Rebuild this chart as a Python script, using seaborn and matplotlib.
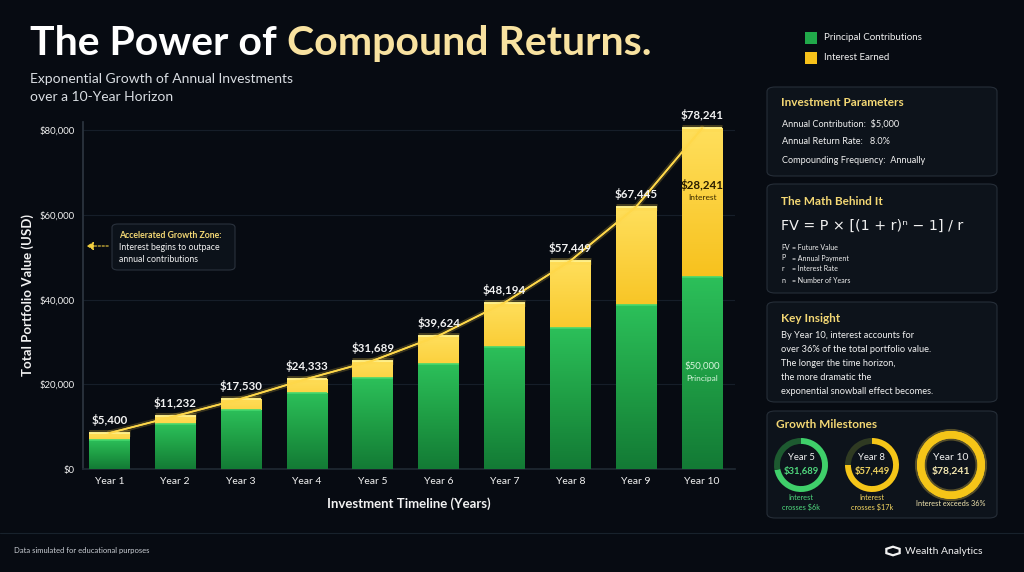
import numpy as np
import matplotlib
matplotlib.use("Agg")
import matplotlib.pyplot as plt
import matplotlib.patheffects as pe
from matplotlib.patches import FancyBboxPatch, Rectangle, RegularPolygon
from matplotlib.colors import LinearSegmentedColormap
import seaborn as sns
import pandas as pd

# values
years = ["Year 1", "Year 2", "Year 3", "Year 4", "Year 5",
         "Year 6", "Year 7", "Year 8", "Year 9", "Year 10"]
principal = [6900, 10600, 14000, 18000, 21500, 24900, 28900, 33400, 38800, 45400]
interest = [1600, 1900, 2600, 3300, 4100, 6600, 10400, 15800, 23200, 35100]
total_labels = ["$5,400", "$11,232", "$17,530", "$24,333", "$31,689",
                "$39,624", "$48,194", "$57,449", "$67,445", "$78,241"]
milestone_years = ["Year 5", "Year 8", "Year 10"]
milestone_values = ["$31,689", "$57,449", "$78,241"]
milestone_fill = [0.72, 0.75, 1.0]
milestone_notes = ["Interest\ncrosses $6k", "Interest\ncrosses $17k", "Interest exceeds 36%"]

BG = "#070b12"
GREEN = "#21a94a"
GOLD = "#f7c21a"
GOLD_TXT = "#f3d774"
WHITE = "#f2f2f2"
FONT = ["Lato", "DejaVu Sans"]

sns.set_theme(style="dark")
plt.rcParams["font.family"] = FONT
plt.rcParams["axes.facecolor"] = BG
plt.rcParams["figure.facecolor"] = BG

W, H = 1024, 572
fig = plt.figure(figsize=(W / 100, H / 100), dpi=100)


def fx(px):
    return px / W


def fy(py):
    return 1 - py / H


df = pd.DataFrame({"year": years, "principal": principal, "interest": interest})
df["total"] = df["principal"] + df["interest"]

ax = fig.add_axes([fx(83), fy(469), fx(735) - fx(83), fy(122) - fy(469)])
ax.set_facecolor(BG)
ax.set_zorder(2)

sns.barplot(data=df, x="year", y="total", color=GOLD, width=0.62, ax=ax,
            saturation=1, zorder=3, edgecolor="none", linewidth=0)
sns.barplot(data=df, x="year", y="principal", color=GREEN, width=0.62, ax=ax,
            saturation=1, zorder=4, edgecolor="none", linewidth=0)
ax.set_ylim(0, 82000)
ax.set_xlim(-0.4, 9.5)

# gradient fills clipped to each bar
gold_cmap = LinearSegmentedColormap.from_list("g", ["#e29a00", "#f6bd14", "#ffdf5c"])
green_cmap = LinearSegmentedColormap.from_list("gr", ["#137a35", "#1f9e45", "#2cc05a"])
grad = np.linspace(0, 1, 256).reshape(-1, 1)
n = len(years)
for i, p in enumerate(ax.patches):
    x0, y0 = p.get_x(), p.get_y()
    w, h = p.get_width(), p.get_height()
    cmap = gold_cmap if i < n else green_cmap
    im = ax.imshow(grad, extent=[x0, x0 + w, y0, y0 + h], origin="lower",
                   cmap=cmap, aspect="auto", zorder=p.get_zorder() + 0.1)
    im.set_clip_path(p)
    top_c = "#fff08a" if i < n else "#45d86e"
    edge = ax.plot([x0, x0 + w], [y0 + h, y0 + h], color=top_c, lw=1.2,
                   zorder=p.get_zorder() + 0.2, solid_capstyle="butt")[0]
    if i < n:
        edge.set_path_effects([pe.withStroke(linewidth=5, foreground="#ffd84a", alpha=0.25),
                               pe.Normal()])

ax.set_ylim(0, 82000)
ax.set_xlim(-0.4, 9.5)

# growth line through bar tops
xs = np.arange(n)
line, = ax.plot(xs, df["total"], color="#ffd84a", lw=1.2, zorder=6)
line.set_path_effects([pe.withStroke(linewidth=4, foreground="#ffd84a", alpha=0.2), pe.Normal()])

for i, lab in enumerate(total_labels):
    ax.annotate(lab, (i, df["total"][i]), xytext=(0, 5), textcoords="offset points",
                ha="center", va="bottom", color=WHITE, fontsize=8.3,
                fontweight="bold", zorder=8)

# year 10 inner labels
ax.text(9, principal[9] + interest[9] * 0.62, "$28,241", ha="center", va="center",
        color="#2a1d00", fontsize=8.3, fontweight="bold", zorder=8)
ax.text(9, principal[9] + interest[9] * 0.62 - 3000, "Interest", ha="center",
        va="center", color="#3a2a00", fontsize=6, zorder=8)
ax.text(9, 24300, "$50,000", ha="center", va="center", color="#d8f5dd",
        fontsize=7, zorder=8)
ax.text(9, 21300, "Principal", ha="center", va="center", color="#d8f5dd",
        fontsize=6, zorder=8)

ax.set_yticks([0, 20000, 40000, 60000, 80000])
ax.set_yticklabels(["$0", "$20,000", "$40,000", "$60,000", "$80,000"])
ax.tick_params(axis="y", colors=WHITE, labelsize=6.8, length=0, pad=6)
ax.tick_params(axis="x", colors=WHITE, labelsize=7.5, length=0, pad=6)
ax.grid(axis="y", color="#161e29", lw=0.8)
ax.grid(axis="x", visible=False)
for s in ["top", "right"]:
    ax.spines[s].set_visible(False)
ax.spines["left"].set_color("#2c3540")
ax.spines["bottom"].set_color("#1f2832")
ax.set_xlabel("Investment Timeline (Years)", color=WHITE, fontsize=9.5,
              fontweight="bold", labelpad=8)
ax.set_ylabel("Total Portfolio Value (USD)", color=WHITE, fontsize=9.5,
              fontweight="bold", labelpad=4)

# annotation box
fig.patches.append(FancyBboxPatch((fx(112), fy(270)), fx(235) - fx(112), fy(224) - fy(270),
                                  boxstyle="round,pad=0,rounding_size=0.006",
                                  transform=fig.transFigure, facecolor="#0c121a",
                                  edgecolor="#2a323d", lw=0.8, zorder=5))
fig.text(fx(119), fy(235), "Accelerated Growth Zone:", color=GOLD_TXT, fontsize=6.3,
         fontweight="bold", va="center", zorder=6)
fig.text(fx(119), fy(247), "Interest begins to outpace", color=WHITE, fontsize=6.3,
         va="center", zorder=6)
fig.text(fx(119), fy(259), "annual contributions", color=WHITE, fontsize=6.3,
         va="center", zorder=6)
fig.add_artist(matplotlib.patches.FancyArrowPatch(
    (fx(111), fy(246)), (fx(84), fy(246)), transform=fig.transFigure,
    arrowstyle="-|>,head_length=4,head_width=2.5", linestyle=(0, (2, 1.5)),
    color="#f3d040", lw=0.8, zorder=6))

# title
t1 = fig.text(fx(30), fy(55), "The Power of ", color="white", fontsize=29.5,
              fontweight="bold", va="baseline")
fig.canvas.draw()
bb = t1.get_window_extent()
fig.text(bb.x1 / W, fy(55), "Compound Returns.", color="#f8e2a0", fontsize=29.5,
         fontweight="bold", va="baseline")
fig.text(fx(30), fy(79), "Exponential Growth of Annual Investments", color="#d9dde2",
         fontsize=10, va="center")
fig.text(fx(30), fy(97), "over a 10-Year Horizon", color="#d9dde2", fontsize=10,
         va="center")

# legend
for yy, c, lab in [(38, GREEN, "Principal Contributions"), (58, GOLD, "Interest Earned")]:
    fig.patches.append(Rectangle((fx(805), fy(yy + 6)), fx(12), fy(yy - 6) - fy(yy + 6),
                                 transform=fig.transFigure, facecolor=c, edgecolor="none"))
    fig.text(fx(824), fy(yy), lab, color=WHITE, fontsize=7, va="center")


def panel(y0, y1):
    fig.patches.append(FancyBboxPatch((fx(767), fy(y1)), fx(997) - fx(767), fy(y0) - fy(y1),
                                      boxstyle="round,pad=0,rounding_size=0.008",
                                      transform=fig.transFigure, facecolor="#0d131b",
                                      edgecolor="#262e38", lw=0.8, zorder=0.5))


panel(87, 176)
fig.text(fx(781), fy(103), "Investment Parameters", color=GOLD_TXT, fontsize=8.5,
         fontweight="bold", va="center")
for yy, s in [(124, "Annual Contribution:  $5,000"), (142, "Annual Return Rate:   8.0%"),
              (160, "Compounding Frequency:  Annually")]:
    fig.text(fx(782), fy(yy), s, color=WHITE, fontsize=6.6, va="center")

panel(184, 293)
fig.text(fx(781), fy(201), "The Math Behind It", color=GOLD_TXT, fontsize=8.5,
         fontweight="bold", va="center")
fig.text(fx(781), fy(226), "FV = P × [(1 + r)ⁿ − 1] / r", color=WHITE, fontsize=10.3,
         va="center", family=["DejaVu Sans"])
for yy, a, b in [(247, "FV", "= Future Value"), (258, "P", "= Annual Payment"),
                 (269, "r", "= Interest Rate"), (280, "n", "= Number of Years")]:
    fig.text(fx(781), fy(yy), a, color=WHITE, fontsize=5, va="center")
    fig.text(fx(792), fy(yy), b, color=WHITE, fontsize=5, va="center")

panel(302, 402)
fig.text(fx(781), fy(318), "Key Insight", color=GOLD_TXT, fontsize=8.5,
         fontweight="bold", va="center")
for yy, s in [(336, "By Year 10, interest accounts for"),
              (350, "over 36% of the total portfolio value."),
              (364, "The longer the time horizon,"),
              (377, "the more dramatic the"),
              (391, "exponential snowball effect becomes.")]:
    fig.text(fx(781), fy(yy), s, color=WHITE, fontsize=6.7, va="center")

panel(411, 518)
fig.text(fx(776), fy(425), "Growth Milestones", color=GOLD_TXT, fontsize=8.5,
         fontweight="bold", va="center")

ring_specs = [(801, 27, "#3fcf6a", "#1d5a30", "#4fd77d"),
              (872, 27, "#f5c518", "#2f3a22", "#f3d560"),
              (951, 34, "#f5c518", "#f5c518", "#f3e7b0")]
for (cx, r, c_on, c_off, c_txt), yl, val, frac, note in zip(
        ring_specs, milestone_years, milestone_values, milestone_fill, milestone_notes):
    cy = 465
    pad = 4
    dax = fig.add_axes([fx(cx - r - pad), fy(cy + r + pad), fx(2 * (r + pad)),
                        fy(cy - r - pad) - fy(cy + r + pad)])
    dax.set_zorder(3)
    dax.patch.set_visible(False)
    sizes = [frac, 1 - frac] if frac < 1 else [1]
    cols = [c_on, c_off] if frac < 1 else [c_on]
    wedges, _ = dax.pie(sizes, colors=cols, startangle=90, counterclock=False,
                        wedgeprops=dict(width=0.22, edgecolor="none"), radius=1)
    if frac >= 1:
        for wdg in wedges:
            wdg.set_path_effects([pe.withStroke(linewidth=3, foreground="#ffd84a", alpha=0.3),
                                  pe.Normal()])
    lim = (r + pad) / r
    dax.set_xlim(-lim, lim)
    dax.set_ylim(-lim, lim)
    dax.set_aspect("equal")
    dax.axis("off")
    big = r > 30
    fig.text(fx(cx), fy(cy - 7), yl, color=WHITE, fontsize=7.5 if big else 6.8,
             ha="center", va="center", zorder=4)
    fig.text(fx(cx), fy(cy + 6), val, color=c_txt, fontsize=7.5 if big else 6.8,
             ha="center", va="center", fontweight="bold", zorder=4)
    if "\n" in note:
        a, b = note.split("\n")
        fig.text(fx(cx), fy(498), a, color=c_txt, fontsize=5.3, ha="center", va="center")
        fig.text(fx(cx), fy(507), b, color=c_txt, fontsize=5.3, ha="center", va="center")
    else:
        fig.text(fx(cx), fy(503), note, color=c_txt, fontsize=5.3, ha="center", va="center")

# footer
fig.add_artist(plt.Line2D([0, 1], [fy(533), fy(533)], transform=fig.transFigure,
                          color="#18222c", lw=0.8))
fig.text(fx(14), fy(551), "Data simulated for educational purposes", color="#c9cdd3",
         fontsize=5.5, va="center")
fig.patches.append(RegularPolygon((fx(893), fy(551)), numVertices=6, radius=0.0075,
                                  orientation=0, transform=fig.transFigure,
                                  facecolor="none", edgecolor=WHITE, lw=1.6))
fig.text(fx(905), fy(551), "Wealth Analytics", color=WHITE, fontsize=7.5, va="center")

fig.savefig("out.png", dpi=100, facecolor=BG)
